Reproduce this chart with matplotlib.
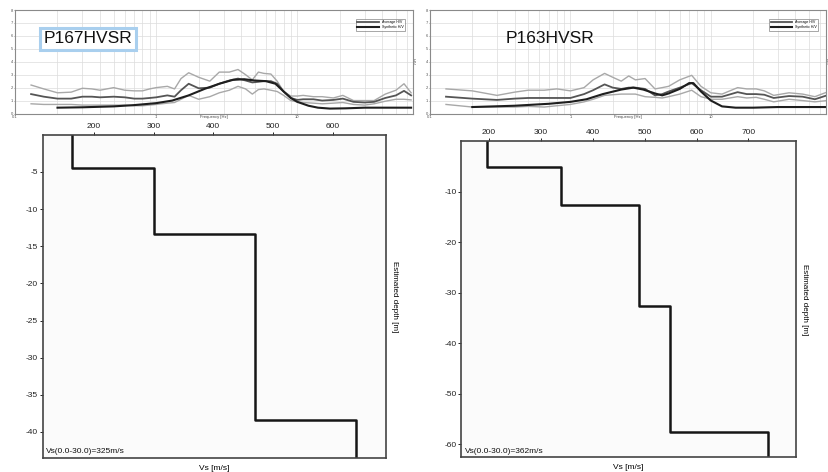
import matplotlib
matplotlib.use("Agg")
import matplotlib.pyplot as plt
from matplotlib import font_manager
from matplotlib.ticker import LogLocator, NullFormatter, FixedLocator

plt.rcParams["font.family"] = ["Liberation Sans", "DejaVu Sans"]
plt.rcParams["axes.unicode_minus"] = False

_names = {f.name for f in font_manager.fontManager.ttflist}
NARROW = "Liberation Sans Narrow" if "Liberation Sans Narrow" in _names else "Liberation Sans"

# ---------------- HVSR curves: P167 ----------------
p167_freq = [0.13, 0.16, 0.2, 0.25, 0.3, 0.35, 0.4, 0.5, 0.6, 0.7, 0.8, 0.9, 1.0,
             1.2, 1.35, 1.5, 1.7, 2.0, 2.4, 2.8, 3.3, 3.8, 4.3, 4.8, 5.3, 5.8,
             6.5, 7.2, 8.0, 9.0, 10, 11, 13, 15, 18, 21, 25, 30, 35, 42, 50, 57, 64]
p167_mean = [1.5, 1.3, 1.15, 1.15, 1.3, 1.3, 1.25, 1.3, 1.25, 1.15, 1.15, 1.2, 1.25,
             1.4, 1.3, 1.8, 2.3, 1.95, 2.0, 2.3, 2.55, 2.7, 2.55, 2.4, 2.45, 2.5,
             2.5, 2.3, 1.7, 1.2, 1.05, 1.1, 1.1, 1.0, 1.05, 1.15, 0.9, 0.85, 0.9, 1.2, 1.4, 1.75, 1.4]
p167_upper = [2.2, 1.9, 1.6, 1.65, 1.95, 1.9, 1.8, 2.0, 1.8, 1.75, 1.75, 1.9, 2.0,
              2.1, 1.9, 2.7, 3.15, 2.8, 2.5, 3.2, 3.2, 3.4, 3.0, 2.6, 3.2, 3.1,
              3.05, 2.5, 1.7, 1.35, 1.35, 1.4, 1.3, 1.3, 1.2, 1.4, 1.0, 1.0, 1.0, 1.5, 1.8, 2.3, 1.6]
p167_lower = [0.75, 0.7, 0.7, 0.7, 0.65, 0.65, 0.65, 0.65, 0.65, 0.6, 0.6, 0.65, 0.7,
              0.8, 0.85, 1.1, 1.4, 1.1, 1.3, 1.6, 1.8, 2.1, 1.9, 1.5, 1.85, 1.9,
              1.8, 1.7, 1.4, 1.0, 0.9, 0.85, 0.8, 0.75, 0.8, 0.85, 0.7, 0.65, 0.75, 0.95, 1.1, 1.1, 1.05]
p167_syn_freq = [0.2, 0.3, 0.5, 0.7, 1.0, 1.3, 1.7, 2.2, 2.8, 3.5, 4.2, 5.0, 6.0, 7.0,
                 8.0, 9.0, 10, 12, 14, 17, 22, 30, 45, 64]
p167_syn = [0.45, 0.48, 0.55, 0.65, 0.8, 1.0, 1.4, 1.9, 2.3, 2.6, 2.65, 2.55, 2.5, 2.3,
            1.7, 1.2, 0.9, 0.6, 0.45, 0.38, 0.4, 0.45, 0.45, 0.45]

# ---------------- HVSR curves: P163 ----------------
p163_freq = [0.13, 0.2, 0.3, 0.4, 0.5, 0.65, 0.8, 1.0, 1.25, 1.45, 1.75, 2.0, 2.3,
             2.6, 2.9, 3.4, 4.0, 4.5, 5.0, 6.0, 7.3, 8.5, 10, 12, 15.5, 18, 21,
             24, 28, 36, 45, 55, 67]
p163_mean = [1.3, 1.15, 1.05, 1.15, 1.2, 1.2, 1.2, 1.2, 1.5, 1.8, 2.25, 2.0, 1.9,
             2.0, 2.0, 1.9, 1.4, 1.5, 1.7, 2.0, 2.35, 1.8, 1.3, 1.3, 1.65, 1.5, 1.5,
             1.45, 1.2, 1.35, 1.3, 1.1, 1.4]
p163_upper = [1.9, 1.75, 1.4, 1.65, 1.8, 1.8, 1.9, 1.75, 2.0, 2.6, 3.1, 2.8, 2.5,
              2.9, 2.6, 2.7, 1.9, 2.0, 2.1, 2.6, 2.95, 2.1, 1.6, 1.5, 2.0, 1.9, 1.9,
              1.75, 1.4, 1.6, 1.5, 1.3, 1.65]
p163_lower = [0.7, 0.5, 0.5, 0.5, 0.55, 0.5, 0.6, 0.7, 0.9, 1.1, 1.4, 1.45, 1.5,
              1.5, 1.5, 1.3, 1.25, 1.2, 1.3, 1.5, 1.8, 1.3, 1.1, 1.1, 1.3, 1.2, 1.25,
              1.1, 0.9, 1.1, 1.0, 0.9, 1.0]
p163_syn_freq = [0.2, 0.4, 0.7, 1.0, 1.3, 1.7, 2.3, 2.8, 3.3, 4.0, 4.5, 5.0, 6.0,
                 7.0, 7.5, 8.5, 10, 12, 15, 20, 30, 45, 67]
p163_syn = [0.5, 0.6, 0.75, 0.9, 1.1, 1.5, 1.85, 2.0, 1.85, 1.55, 1.4, 1.55, 1.9,
            2.35, 2.35, 1.7, 1.0, 0.55, 0.45, 0.45, 0.5, 0.5, 0.5]

# ---------------- Vs profiles ----------------
p167_vs = [164, 300, 470, 638]
p167_interfaces = [4.5, 13.4, 38.4]
p167_bottom = 43.5
p167_vs30 = "Vs(0.0-30.0)=325m/s"
p167_ticks_x = [200, 300, 400, 500, 600]
p167_ticks_y = [-5, -10, -15, -20, -25, -30, -35, -40]

p163_vs = [197, 339, 489, 549, 738]
p163_interfaces = [5.0, 12.6, 32.6, 57.6]
p163_bottom = 62.6
p163_vs30 = "Vs(0.0-30.0)=362m/s"
p163_ticks_x = [200, 300, 400, 500, 600, 700]
p163_ticks_y = [-10, -20, -30, -40, -50, -60]

W, H = 829, 472
fig = plt.figure(figsize=(W / 100, H / 100), dpi=100)
fig.patch.set_facecolor("white")


def px_axes(x0, y0, x1, y1):
    return fig.add_axes([x0 / W, 1 - y1 / H, (x1 - x0) / W, (y1 - y0) / H])


def hvsr_panel(ax, freq, mean, upper, lower, sfreq, syn):
    ax.set_xscale("log")
    ax.set_xlim(0.1, 66)
    ax.set_ylim(0, 8)
    ax.xaxis.set_major_locator(FixedLocator([0.1, 1, 10]))
    ax.xaxis.set_minor_locator(LogLocator(base=10, subs=range(2, 10)))
    ax.xaxis.set_minor_formatter(NullFormatter())
    ax.set_xticklabels(["0.1", "1", "10"])
    ax.set_yticks(range(0, 9))
    ax.grid(True, which="both", color="#dcdcdc", lw=0.5)
    ax.set_axisbelow(True)
    ax.tick_params(labelsize=3, length=1.0, width=0.4, pad=0.4, colors="#555")
    ax.tick_params(which="minor", length=0)
    for s in ax.spines.values():
        s.set_color("#8a8a8a")
        s.set_linewidth(0.8)
    ax.plot(freq, upper, color="#a8a8a8", lw=1.0)
    ax.plot(freq, lower, color="#a8a8a8", lw=1.0)
    ax.plot(freq, mean, color="#555555", lw=1.3, label="Average H/V")
    ax.plot(sfreq, syn, color="#1e1e1e", lw=1.5, label="Synthetic H/V")
    leg = ax.legend(loc="upper right", fontsize=2.6, frameon=True, fancybox=False,
                    edgecolor="#666", handlelength=6, borderpad=0.4,
                    labelspacing=0.2, bbox_to_anchor=(0.985, 0.93))
    leg.get_frame().set_linewidth(0.5)
    ax.text(0.5, -0.035, "Frequency [Hz]", transform=ax.transAxes, fontsize=3,
            ha="center", va="center", color="#444")
    ax.yaxis.set_label_position("right")
    ax.set_ylabel("H/V", fontsize=3, rotation=-90, labelpad=1.5, color="#444")


def profile_panel(ax, vs, interfaces, bottom, vs30, xlim, xt, yt):
    x = list(vs) + [vs[-1]]
    y = [0] + [-d for d in interfaces] + [-bottom]
    ax.plot(x, y, drawstyle="steps-pre", color="#161616", lw=1.8)
    ax.set_xlim(*xlim)
    ax.set_ylim(-bottom, 0)
    ax.set_facecolor("#fbfbfb")
    ax.xaxis.tick_top()
    ax.set_xticks(xt)
    ax.set_yticks(yt)
    ax.tick_params(labelsize=6, length=2.5, width=0.7, pad=1, colors="#222")
    for lab in ax.get_xticklabels() + ax.get_yticklabels():
        lab.set_fontfamily(NARROW)
    for s in ax.spines.values():
        s.set_color("#444")
        s.set_linewidth(1.2)
    ax.xaxis.set_label_position("bottom")
    ax.set_xlabel("Vs [m/s]", fontsize=6, labelpad=5)
    ax.yaxis.set_label_position("right")
    ax.set_ylabel("Estimated depth [m]", fontsize=5.8, rotation=-90, labelpad=9)
    ax.text(0.01, 0.008, vs30, transform=ax.transAxes, fontsize=6,
            ha="left", va="bottom", color="#111")


# top panels
ax1 = px_axes(15, 10, 413, 113.5)
hvsr_panel(ax1, p167_freq, p167_mean, p167_upper, p167_lower, p167_syn_freq, p167_syn)
ax1.text(0.072, 0.72, "P167HVSR", transform=ax1.transAxes, fontsize=12.5,
         ha="left", va="center", color="#111",
         bbox=dict(boxstyle="square,pad=0.22", facecolor="white",
                   edgecolor="#a9cfee", linewidth=2.2))

ax2 = px_axes(430, 10, 826, 113.5)
hvsr_panel(ax2, p163_freq, p163_mean, p163_upper, p163_lower, p163_syn_freq, p163_syn)
ax2.text(0.19, 0.72, "P163HVSR", transform=ax2.transAxes, fontsize=12.5,
         ha="left", va="center", color="#111")

# bottom panels
ax3 = px_axes(43, 134.7, 386, 458)
profile_panel(ax3, p167_vs, p167_interfaces, p167_bottom, p167_vs30,
              (115, 689), p167_ticks_x, p167_ticks_y)

ax4 = px_axes(461.3, 141.3, 795.7, 457.3)
profile_panel(ax4, p163_vs, p163_interfaces, p163_bottom, p163_vs30,
              (147, 791), p163_ticks_x, p163_ticks_y)

fig.savefig("out.png", dpi=100, facecolor="white")
